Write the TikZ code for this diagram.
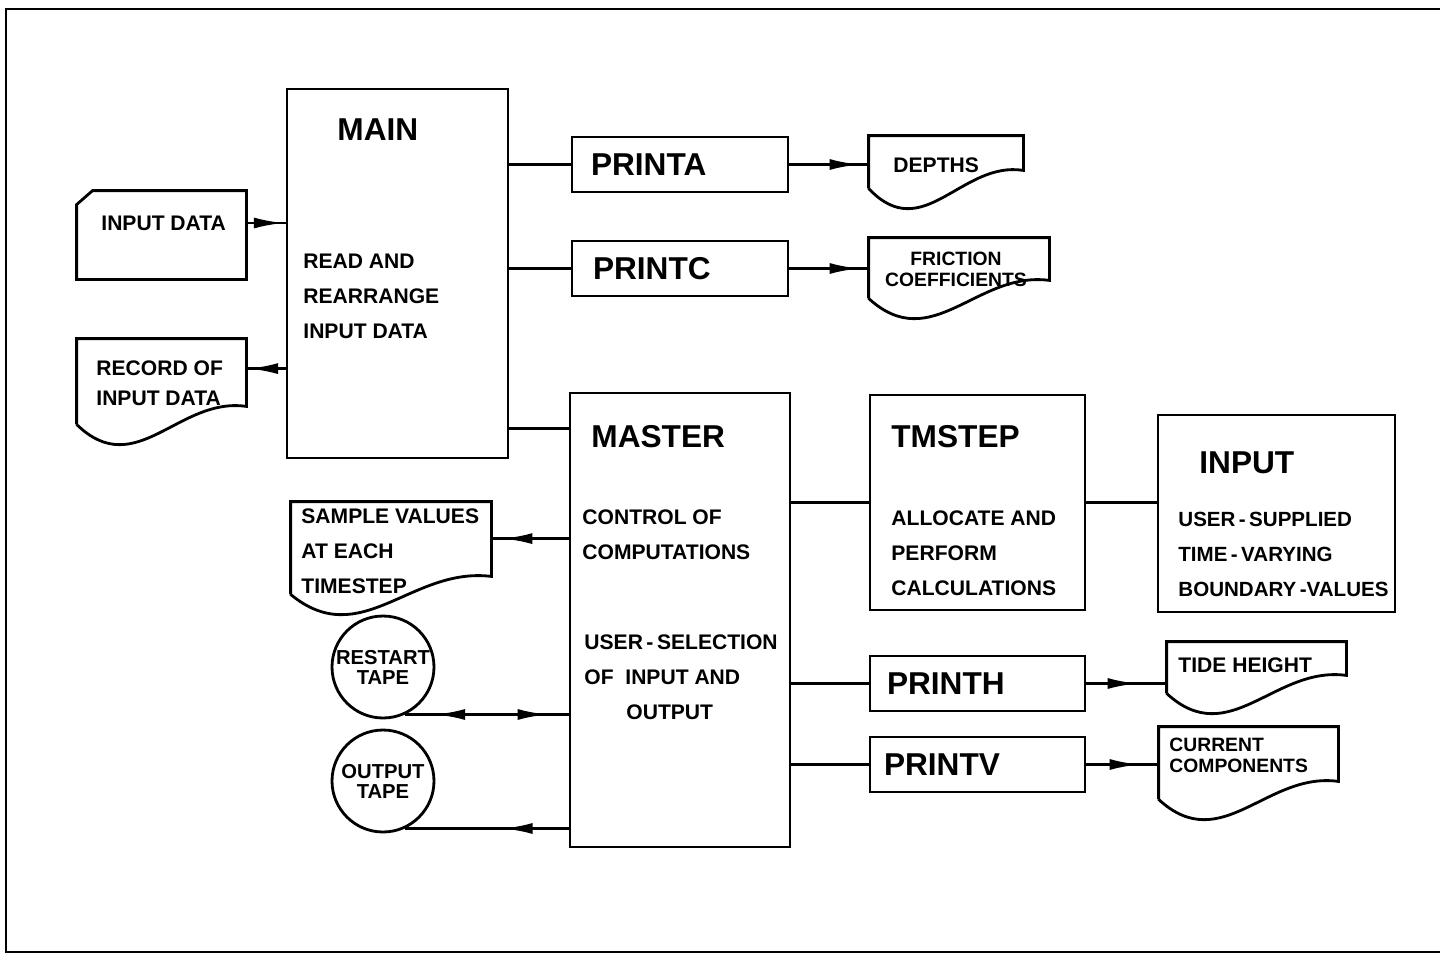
\documentclass[tikz,border=0pt]{standalone}
\usepackage{fontspec}
\setmainfont{Liberation Sans}
\usetikzlibrary{arrows.meta,calc,decorations.markings}

\begin{document}
\begin{tikzpicture}[x=0.02cm,y=-0.02cm,line width=1.6pt,
  every node/.style={font=\fontsize{12}{19.9}\selectfont\bfseries,inner sep=0pt},
  box/.style args={#1/#2}{draw,minimum width=#1*0.02cm,minimum height=#2*0.02cm},
  pbox/.style={draw,text width=3.56cm,inner xsep=0.38cm,minimum height=1.1cm,align=left,font=\fontsize{18}{22}\selectfont\bfseries},
  doc/.style args={#1/#2}{minimum width=#1*0.02cm,minimum height=#2*0.02cm},
  ttl/.style={anchor=west,font=\fontsize{18}{22}\selectfont\bfseries},
  txt/.style={anchor=west,align=left},
  small/.style={anchor=west,align=left,font=\fontsize{11}{12}\selectfont\bfseries},
  tape/.style={draw,circle,minimum size=2.04cm,align=center,font=\fontsize{11.5}{11.4}\selectfont\bfseries},
  tip/.style={postaction={decorate,decoration={markings,mark=at position #1 with {\arrow{Latex[length=0.6cm,width=0.22cm]}}}}},
  tipback/.style={postaction={decorate,decoration={markings,mark=at position #1 with {\arrowreversed{Latex[length=0.6cm,width=0.22cm]}}}}}]
\useasboundingbox (0,0) rectangle (1440,957);
\draw[line width=1.4pt] (1440,9) -- (6,9) -- (6,952) -- (1440,952);

% main program
\node[box=221/369] (main) at (397.5,273.5) {};
\node[ttl] (maint) at (336,130) {MAIN};
\node[txt] (mainb) at (302,296) {READ AND\\REARRANGE\\INPUT DATA};
\node[pbox] (printa) at (680,164.5) {PRINTA};
\node[pbox,inner xsep=0.42cm,text width=3.48cm] (printc) at (680,268.5) {PRINTC};

% master and its calls
\node[box=220/454] (master) at (680,620) {};
\node[ttl] (mastert) at (590,437) {MASTER};
\node[txt] (masterb) at (581,535) {CONTROL OF\\COMPUTATIONS};
\node[txt] (masterc) at (583,677) {USER\,-\,SELECTION\\OF \ INPUT AND\\\hspace*{0.84cm}OUTPUT};
\node[box=215/215] (tmstep) at (977.5,502.5) {};
\node[ttl] (tmstept) at (890,437) {TMSTEP};
\node[txt] (tmstepb) at (890,553) {ALLOCATE AND\\PERFORM\\CALCULATIONS};
\node[box=237/197] (input) at (1276.5,513.5) {};
\node[ttl] (inputt) at (1198,463) {INPUT};
\node[txt,font=\fontsize{11.7}{19.9}\selectfont\bfseries] (inputb) at (1177,554) {USER\,-\,SUPPLIED\\TIME\,-\,VARYING\\BOUNDARY\,-VALUES};
\node[pbox,inner xsep=0.34cm,text width=3.62cm] (printh) at (977.5,683.5) {PRINTH};
\node[pbox,inner xsep=0.28cm,text width=3.74cm] (printv) at (977.5,764.5) {PRINTV};

% documents and tapes
\node[doc=167/86] (indata) at (161.5,235) {};
\node[txt] (indatat) at (100,223) {INPUT DATA};
\node[doc=167/83] (record) at (161.5,381.5) {};
\node[txt,font=\fontsize{12}{17}\selectfont\bfseries] (recordt) at (95,383) {RECORD OF\\INPUT DATA};
\node[doc=152/50] (depths) at (946,162) {};
\node[txt] (depthst) at (892,165) {DEPTHS};
\node[doc=178/58] (friction) at (959,268) {};
\node[small,anchor=center,align=center] (frictiont) at (956,269) {FRICTION\\COEFFICIENTS};
\node[doc=198/90] (sample) at (391,548) {};
\node[txt] (samplet) at (300,551) {SAMPLE VALUES\\AT EACH\\TIMESTEP};
\node[doc=177/49] (tide) at (1256.5,667.5) {};
\node[txt] (tidet) at (1177,665) {TIDE HEIGHT};
\node[doc=177/70] (current) at (1248.5,763) {};
\node[small] (currentt) at (1168,755) {CURRENT\\COMPONENTS};
\node[tape] (restart) at (383,667) {RESTART\\TAPE};
\node[tape] (output) at (383,781) {OUTPUT\\TAPE};

\draw (indata.south west) -- ($(indata.north west)+(0,14)$) -- ($(indata.north west)+(16,0)$) -- (indata.north east) -- (indata.south east) -- cycle;
\foreach \d in {depths,friction,tide,current,record,sample}
  \draw (\d.south west) -- (\d.north west) -- (\d.north east) -- ($(\d.south east)+(0,-18)$)
    .. controls ($(\d.south west)!0.6!(\d.south east)+(0,-28)$) and ($(\d.south west)!0.35!(\d.south east)+(0,58)$) .. (\d.south west);

% connectors
\coordinate (r1) at ($(record.north east)+(0,30)$);
\coordinate (m1) at ($(master.north west)+(0,37)$);
\coordinate (s1) at ($(sample.north east)+(0,37)$);
\draw[tip=-1pt] (indatat.east -| indata.east) -- (indatat.east -| main.west);
\draw[tip=-1pt] (r1 -| main.west) -- (r1);
\draw (main.east |- printa.west) -- (printa.west);
\draw (main.east |- printc.west) -- (printc.west);
\draw (main.east |- m1) -- (m1);
\draw[tip=-0.18cm] (printa.east) -- (printa.east -| depths.west);
\draw[tip=-0.18cm] (printc.east) -- (printc.east -| friction.west);
\draw (tmstep.west -| master.east) -- (tmstep.west);
\draw (tmstep.east) -- (tmstep.east -| input.west);
\draw (printh.west -| master.east) -- (printh.west);
\draw[tip=-0.58cm] (printh.east) -- (printh.east -| tide.west);
\draw (printv.west -| master.east) -- (printv.west);
\draw[tip=-0.38cm] (printv.east) -- (printv.east -| current.west);
\draw[tip=-0.22cm] (s1 -| master.west) -- (s1);
\draw[tip=-0.42cm,tipback=0.6cm] (restart.-65) -- (restart.-65 -| master.west);
\draw[tip=1.32cm] (output.-65 -| master.west) -- (output.-65);
\end{tikzpicture}
\end{document}
